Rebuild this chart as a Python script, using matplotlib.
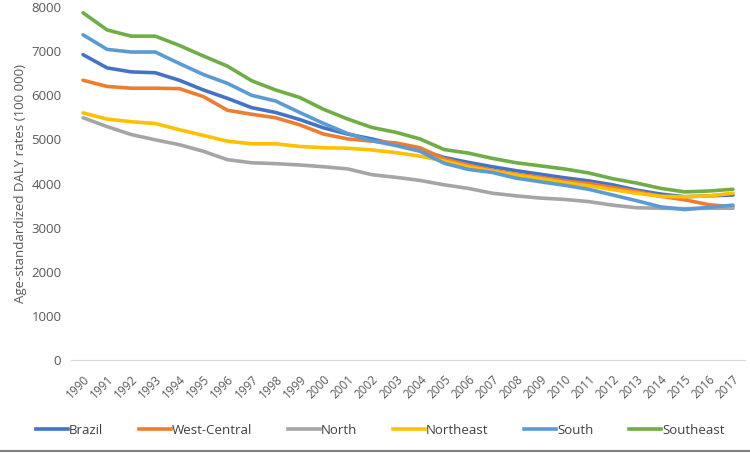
import numpy as np
import matplotlib
matplotlib.use("Agg")
import matplotlib.pyplot as plt
from matplotlib.lines import Line2D

plt.rcParams['font.family'] = ['Open Sans', 'DejaVu Sans']

# Data
years = [str(y) for y in range(1990, 2018)]

brazil = [6920, 6620, 6530, 6510, 6340, 6120, 5930, 5720, 5610, 5450,
          5260, 5120, 5010, 4880, 4760, 4590, 4480, 4380, 4290, 4210,
          4130, 4060, 3970, 3850, 3760, 3700, 3720, 3740]
west_central = [6340, 6200, 6160, 6160, 6150, 5970, 5660, 5570, 5490, 5330,
                5120, 5010, 4960, 4920, 4810, 4560, 4420, 4300, 4210, 4140,
                4060, 4000, 3910, 3820, 3710, 3630, 3520, 3470]
north = [5490, 5290, 5110, 4990, 4880, 4730, 4540, 4470, 4450, 4420,
         4380, 4330, 4200, 4140, 4070, 3970, 3890, 3780, 3720, 3670,
         3640, 3590, 3510, 3450, 3440, 3430, 3440, 3440]
northeast = [5600, 5460, 5400, 5360, 5220, 5090, 4960, 4900, 4900, 4840,
             4810, 4800, 4760, 4700, 4620, 4510, 4380, 4280, 4190, 4110,
             4020, 3950, 3860, 3780, 3710, 3700, 3720, 3780]
south = [7370, 7040, 6980, 6980, 6720, 6470, 6270, 6000, 5870, 5610,
         5360, 5130, 4970, 4860, 4730, 4460, 4320, 4250, 4120, 4040,
         3960, 3870, 3740, 3610, 3470, 3410, 3460, 3510]
southeast = [7870, 7480, 7340, 7340, 7130, 6890, 6660, 6330, 6120, 5950,
             5680, 5460, 5270, 5160, 5010, 4770, 4690, 4570, 4470, 4400,
             4330, 4240, 4110, 4010, 3890, 3810, 3830, 3870]

series = [('Brazil', brazil, '#4472C4'),
          ('West-Central', west_central, '#ED7D31'),
          ('North', north, '#A5A5A5'),
          ('Northeast', northeast, '#FFC000'),
          ('South', south, '#5B9BD5'),
          ('Southeast', southeast, '#70AD47')]

fig = plt.figure(figsize=(7.5, 4.53), dpi=100)
ax = fig.add_axes([0.0947, 0.2053, 0.8986, 0.7792])

x = np.arange(len(years))
for name, vals, col in series:
    ax.plot(x, vals, color=col, lw=2.6, label=name, solid_capstyle='round')

ax.set_xlim(-0.5, len(years) - 0.5)
ax.set_ylim(0, 8000)
ax.set_yticks(range(0, 8001, 1000))
ax.set_xticks(x)
ax.set_xticklabels(years, rotation=45, ha='right', rotation_mode='anchor',
                   fontsize=8.5, color='#595959')
ax.tick_params(axis='y', labelsize=9.5, labelcolor='#595959', length=0, pad=7)
ax.tick_params(axis='x', length=0, pad=9)

for s in ['top', 'right', 'left']:
    ax.spines[s].set_visible(False)
ax.spines['bottom'].set_color('#D9D9D9')

ax.set_ylabel('Age-standardized DALY rates (100 000)', fontsize=9.5,
              color='#595959', labelpad=3)

handles = [Line2D([0], [0], color=c, lw=2.6) for _, _, c in series]
labels = [n for n, _, _ in series]
fig.legend(handles, labels, loc='center', bbox_to_anchor=(0.507, 0.05),
           ncol=6, frameon=False, fontsize=9.5, handlelength=2.4,
           handletextpad=0.1, columnspacing=2.7, labelcolor='#404040')

fig.add_artist(Line2D([0, 1], [0.004, 0.004], color='#7F7F7F', lw=1.5,
                      transform=fig.transFigure))

fig.savefig('out.png', dpi=100)
